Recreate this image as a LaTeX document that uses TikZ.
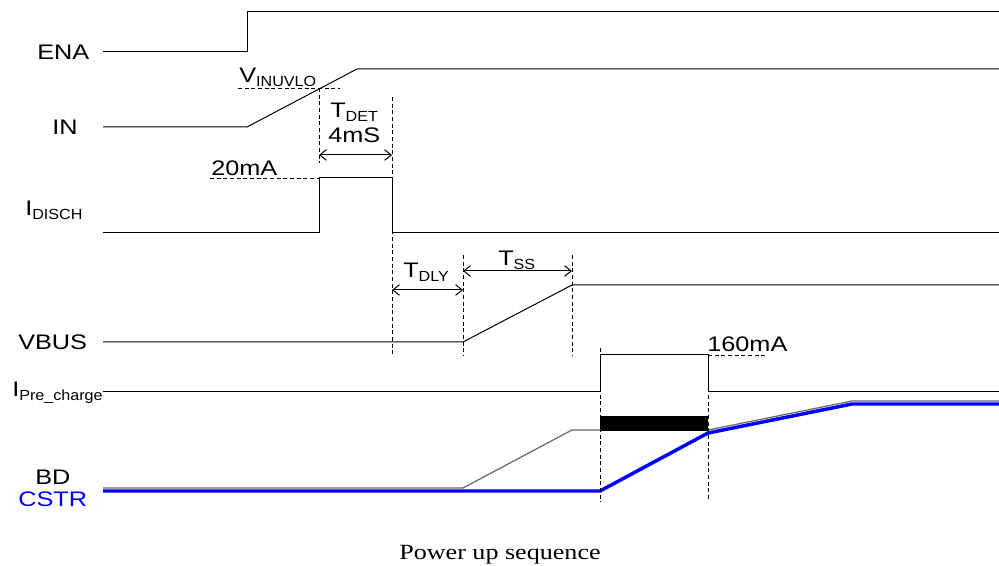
\documentclass[tikz,border=0pt]{standalone}
\usepackage{fontspec}
\setmainfont{Liberation Serif}[FakeStretch=1.2]
\setsansfont{Liberation Sans}[FakeStretch=1.2]
\newfontfamily\subfont{Liberation Sans}[FakeStretch=1.1]
\usetikzlibrary{
    arrows.meta,
    positioning
}
% --- Lowered small subscript (signal indices) ---
\newcommand{\lowsub}[1]{\raisebox{-2.5pt}{\subfont\fontsize{11}{12}\selectfont #1}}
\tikzset{
    % --- Plain signal waveform ---
    wave/.style = {
        line width=0.75pt, black
    },
    % --- BD trace (thin grey) ---
    bd wave/.style = {
        line width=0.9pt, black!60
    },
    % --- CSTR trace (thick blue) ---
    cstr wave/.style = {
        line width=2.6pt, blue
    },
    % --- Dashed time / level marker ---
    marker/.style = {
        line width=0.65pt, dash pattern=on 3pt off 2pt
    },
    % --- Interval arrow with open barbs ---
    span arrow/.style = {
        {Straight Barb[length=5pt,width=8pt]}-{Straight Barb[length=5pt,width=8pt]},
        line width=0.75pt
    },
    % --- Signal name on the left ---
    signame/.style = {
        font=\sffamily\fontsize{15.8}{18}\selectfont,
        inner sep=0pt, anchor=base west
    },
    % --- Annotation on the timing ---
    timing/.style = {
        signame
    }
}

\begin{document}
\begin{tikzpicture}[x=0.75pt, y=-0.75pt]
\useasboundingbox (0,0) rectangle (999,566);

% ---------------------------------------------------------
% Signal names
% ---------------------------------------------------------
\node[signame] (ena) at (37,60) {ENA};
\node[signame] (in) at (52,135) {IN};
\node[signame] (idisch) at (25,216) {I\lowsub{DISCH}};
\node[signame] (vbus) at (18,350) {VBUS};
\node[signame] (ipre) at (12,397) {I\lowsub{Pre\_charge}};
\node[signame] (bd) at (35,484) {BD};
\node[signame, text=blue] (cstr) at (18,506) {CSTR};

% ---------------------------------------------------------
% Waveforms
% ---------------------------------------------------------
\draw[wave] (103,52) -- (247,52) -- (247,12) -- (999,12);
\draw[wave] (103,127) -- (247,127) -- (357,69) -- (999,69);
\draw[wave] (103,233) -- (319,233) -- (319,178) -- (392,178) -- (392,233) -- (999,233);
\draw[wave] (103,342) -- (463,342) -- (572,285) -- (999,285);
\draw[wave] (103,391) -- (600,391) -- (600,355) -- (708,355) -- (708,391) -- (999,391);

% BD with the pre-charge bar
\draw[bd wave] (103,488) -- (463,488) -- (572,430) -- (600,430);
\fill (600,416) rectangle (708,431);
\draw[bd wave] (708,430) -- (852,401) -- (999,401);

% CSTR
\draw[cstr wave] (103,491) -- (600,491) -- (708,433) -- (852,404) -- (999,404);

% ---------------------------------------------------------
% Markers
% ---------------------------------------------------------
\draw[marker] (238,88) -- (340,88);
\draw[marker] (319,88) -- (319,163);
\draw[marker] (210,178) -- (319,178);
\draw[marker] (392,97) -- (392,356);
\draw[marker] (463,255) -- (463,356);
\draw[marker] (572,255) -- (572,356);
\draw[marker] (600,348) -- (600,502);
\draw[marker] (708,355) -- (708,500);
\draw[marker] (708,355) -- (768,355);

% ---------------------------------------------------------
% Interval arrows
% ---------------------------------------------------------
\coordinate (detL) at (319,155);
\coordinate (detR) at (392,155);
\coordinate (dlyL) at (392,290);
\coordinate (dlyR) at (463,290);
\coordinate (ssL) at (463,271);
\coordinate (ssR) at (572,271);
\draw[span arrow] (detL) -- (detR);
\draw[span arrow] (dlyL) -- (dlyR);
\draw[span arrow] (ssL) -- (ssR);

% ---------------------------------------------------------
% Annotations
% ---------------------------------------------------------
\node[timing] (vuvlo) at (239,83) {V\lowsub{INUVLO}};
\node[timing] (tdet) at (330,118) {T\lowsub{DET}};
\node[timing] (tdetval) at (328,143) {4mS};
\node[timing] (ilevel) at (211,176) {20mA};
\node[timing] (tdly) at (403,278) {T\lowsub{DLY}};
\node[timing] (tss) at (498,266) {T\lowsub{SS}};
\node[timing] (plevel) at (707,352) {160mA};

% Caption
\node[font=\rmfamily\fontsize{16.3}{18}\selectfont, inner sep=0pt, anchor=base]
    (caption) at (500,559) {Power up sequence};

\end{tikzpicture}
\end{document}
